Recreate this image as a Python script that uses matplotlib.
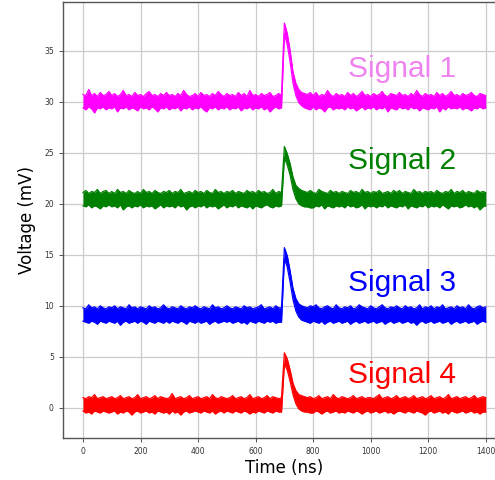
import numpy as np
import matplotlib
matplotlib.use("Agg")
import matplotlib.pyplot as plt

# upper / lower edge of each noisy trace, read every 10 ns (0 .. 1400 ns)
time_ns = np.arange(0, 1401, 10)

signal_1_high = [
    30.7, 30.6, 31.2, 30.6, 30.8, 30.5, 30.9, 30.6, 30.7, 31.0,
    30.6, 30.8, 30.5, 30.7, 31.1, 30.6, 30.7, 30.5, 30.9, 30.6,
    30.7, 30.5, 30.8, 31.0, 30.6, 30.7, 30.5, 30.8, 30.6, 30.9,
    30.6, 30.7, 30.5, 30.8, 30.6, 31.1, 30.7, 30.5, 30.6, 30.8,
    30.5, 30.9, 30.6, 30.7, 30.5, 30.8, 30.6, 31.0, 30.7, 30.5,
    30.8, 30.6, 30.7, 30.5, 30.9, 30.6, 30.8, 30.5, 31.1, 30.6,
    30.7, 30.5, 30.8, 30.6, 30.7, 30.9, 30.5, 30.6, 30.8, 30.6,
    37.7, 36.7, 35.0, 32.9, 31.8, 31.2, 30.9, 30.8, 30.7, 30.9,
    30.6, 30.9, 30.5, 30.7, 30.6, 31.1, 30.7, 30.5, 30.8, 30.6,
    30.7, 30.5, 30.9, 30.6, 30.8, 30.5, 30.7, 31.0, 30.6, 30.7,
    30.5, 30.8, 30.6, 30.7, 31.0, 30.6, 30.5, 30.8, 30.7, 30.6,
    30.9, 30.6, 30.7, 30.5, 30.8, 30.6, 31.1, 30.7, 30.5, 30.8,
    30.6, 30.7, 30.5, 30.9, 30.6, 30.8, 30.5, 30.7, 31.0, 30.6,
    30.7, 30.5, 30.8, 30.6, 30.7, 30.9, 30.6, 30.5, 30.8, 30.7,
    30.6,
]
signal_1_low = [
    29.4, 29.2, 29.5, 29.3, 28.9, 29.4, 29.3, 29.5, 29.2, 29.4,
    29.3, 29.5, 29.0, 29.4, 29.3, 29.5, 29.2, 29.4, 29.3, 29.1,
    29.5, 29.3, 29.4, 29.2, 29.5, 29.3, 29.0, 29.4, 29.3, 29.5,
    29.2, 29.4, 29.3, 29.5, 29.1, 29.4, 29.3, 29.5, 29.2, 29.4,
    29.3, 29.5, 29.2, 29.0, 29.4, 29.3, 29.5, 29.2, 29.4, 29.3,
    29.5, 29.2, 29.4, 29.3, 29.5, 29.1, 29.4, 29.3, 29.5, 29.2,
    29.4, 29.3, 29.5, 29.2, 29.4, 29.0, 29.3, 29.5, 29.3, 29.4,
    36.6, 35.6, 33.9, 31.8, 30.6, 29.9, 29.6, 29.4, 29.3, 29.2,
    29.5, 29.2, 29.4, 29.3, 29.0, 29.4, 29.5, 29.2, 29.4, 29.3,
    29.4, 29.2, 29.5, 29.3, 29.4, 29.1, 29.3, 29.5, 29.2, 29.4,
    29.3, 29.5, 29.2, 29.4, 29.3, 29.5, 29.0, 29.4, 29.3, 29.2,
    29.5, 29.3, 29.4, 29.2, 29.5, 29.3, 29.4, 29.1, 29.4, 29.3,
    29.2, 29.4, 29.3, 29.5, 29.0, 29.4, 29.2, 29.5, 29.3, 29.4,
    29.3, 29.5, 29.2, 29.4, 29.3, 29.1, 29.4, 29.3, 29.5, 29.3,
    29.4,
]

signal_2_high = [
    21.1, 21.3, 21.0, 21.2, 21.1, 21.4, 21.0, 21.2, 21.3, 21.0,
    21.2, 21.0, 21.4, 21.1, 21.2, 21.0, 21.3, 21.1, 21.0, 21.2,
    21.0, 21.4, 21.1, 21.2, 21.0, 21.3, 21.1, 21.0, 21.2, 21.1,
    21.3, 21.0, 21.2, 21.1, 21.4, 21.0, 21.1, 21.2, 21.0, 21.3,
    21.1, 21.2, 21.0, 21.3, 21.1, 21.0, 21.4, 21.1, 21.2, 21.0,
    21.2, 21.1, 21.3, 21.0, 21.2, 21.1, 21.0, 21.3, 21.1, 21.2,
    21.0, 21.3, 21.1, 21.2, 21.0, 21.1, 21.4, 21.0, 21.2, 21.1,
    25.6, 24.9, 23.9, 22.6, 21.8, 21.5, 21.3, 21.2, 21.1, 21.3,
    21.1, 21.0, 21.4, 21.2, 21.1, 21.0, 21.3, 21.1, 21.2, 21.0,
    21.2, 21.1, 21.0, 21.3, 21.1, 21.2, 21.0, 21.4, 21.1, 21.2,
    21.0, 21.2, 21.1, 21.3, 21.0, 21.1, 21.2, 21.0, 21.3, 21.1,
    21.3, 21.0, 21.2, 21.1, 21.0, 21.4, 21.1, 21.2, 21.0, 21.2,
    21.1, 21.2, 21.0, 21.3, 21.1, 21.0, 21.2, 21.1, 21.4, 21.0,
    21.2, 21.1, 21.3, 21.0, 21.2, 21.1, 21.0, 21.3, 21.1, 21.2,
    21.1,
]
signal_2_low = [
    19.8, 19.7, 19.9, 19.6, 19.8, 19.7, 19.5, 19.8, 19.7, 19.9,
    19.7, 19.8, 19.6, 19.9, 19.4, 19.7, 19.8, 19.6, 19.8, 19.7,
    19.9, 19.6, 19.8, 19.7, 19.8, 19.5, 19.7, 19.9, 19.6, 19.8,
    19.7, 19.8, 19.6, 19.9, 19.7, 19.8, 19.4, 19.7, 19.8, 19.6,
    19.8, 19.7, 19.9, 19.6, 19.8, 19.7, 19.8, 19.5, 19.7, 19.9,
    19.6, 19.8, 19.7, 19.9, 19.6, 19.8, 19.7, 19.6, 19.8, 19.5,
    19.8, 19.7, 19.6, 19.8, 19.9, 19.7, 19.6, 19.8, 19.7, 19.8,
    24.5, 23.8, 22.8, 21.4, 20.5, 20.0, 19.8, 19.7, 19.7, 19.6,
    19.6, 19.8, 19.7, 19.9, 19.5, 19.8, 19.7, 19.6, 19.8, 19.7,
    19.8, 19.6, 19.9, 19.7, 19.8, 19.6, 19.7, 19.9, 19.5, 19.8,
    19.7, 19.8, 19.6, 19.8, 19.7, 19.9, 19.6, 19.8, 19.7, 19.6,
    19.8, 19.7, 19.9, 19.5, 19.8, 19.7, 19.6, 19.8, 19.7, 19.9,
    19.6, 19.8, 19.7, 19.8, 19.6, 19.9, 19.7, 19.5, 19.8, 19.7,
    19.8, 19.6, 19.7, 19.9, 19.7, 19.8, 19.6, 19.8, 19.4, 19.7,
    19.8,
]

signal_3_high = [
    9.8, 9.7, 10.1, 9.8, 9.9, 9.7, 10.0, 9.8, 9.7, 9.9,
    9.8, 10.0, 9.7, 9.9, 9.8, 9.7, 10.1, 9.8, 9.9, 9.7,
    9.9, 9.8, 9.7, 10.0, 9.8, 9.9, 9.7, 9.8, 10.1, 9.8,
    9.7, 9.9, 9.8, 9.7, 10.0, 9.8, 9.7, 9.9, 9.8, 10.0,
    9.8, 9.7, 9.9, 9.8, 9.7, 10.1, 9.8, 9.9, 9.7, 9.8,
    10.0, 9.8, 9.7, 9.9, 9.8, 9.7, 10.0, 9.8, 9.9, 9.7,
    9.8, 9.9, 10.1, 9.7, 9.8, 9.9, 9.7, 10.0, 9.8, 9.8,
    15.7, 14.9, 13.4, 11.7, 10.7, 10.2, 10.0, 9.9, 9.8, 10.0,
    9.9, 10.1, 9.8, 9.7, 9.9, 10.0, 9.8, 9.7, 10.1, 9.8,
    9.7, 9.9, 9.8, 10.0, 9.7, 9.8, 10.1, 9.9, 9.8, 9.7,
    10.0, 9.8, 9.7, 9.9, 10.1, 9.8, 9.7, 9.9, 9.8, 10.0,
    9.8, 9.7, 10.0, 9.8, 9.9, 9.7, 9.8, 10.1, 9.7, 9.9,
    9.8, 10.0, 9.7, 9.9, 9.8, 10.1, 9.7, 9.8, 9.9, 9.7,
    10.0, 9.8, 9.9, 9.7, 10.1, 9.8, 9.7, 9.9, 10.0, 9.8,
    9.9,
]
signal_3_low = [
    8.5, 8.4, 8.3, 8.5, 8.4, 8.2, 8.5, 8.4, 8.3, 8.5,
    8.4, 8.3, 8.5, 8.1, 8.4, 8.5, 8.3, 8.4, 8.5, 8.3,
    8.5, 8.4, 8.2, 8.5, 8.4, 8.3, 8.5, 8.4, 8.3, 8.5,
    8.3, 8.5, 8.4, 8.3, 8.5, 8.4, 8.2, 8.5, 8.4, 8.3,
    8.5, 8.3, 8.4, 8.5, 8.2, 8.4, 8.5, 8.3, 8.4, 8.5,
    8.4, 8.5, 8.3, 8.4, 8.5, 8.3, 8.4, 8.2, 8.5, 8.4,
    8.3, 8.5, 8.4, 8.3, 8.5, 8.4, 8.5, 8.3, 8.4, 8.4,
    14.6, 13.8, 12.3, 10.6, 9.5, 8.9, 8.6, 8.5, 8.4, 8.3,
    8.5, 8.4, 8.3, 8.5, 8.2, 8.4, 8.5, 8.3, 8.4, 8.5,
    8.3, 8.4, 8.5, 8.2, 8.4, 8.5, 8.3, 8.4, 8.5, 8.3,
    8.4, 8.5, 8.3, 8.4, 8.5, 8.2, 8.4, 8.5, 8.3, 8.4,
    8.5, 8.3, 8.4, 8.5, 8.3, 8.4, 8.1, 8.4, 8.5, 8.3,
    8.4, 8.5, 8.3, 8.4, 8.5, 8.3, 8.4, 8.5, 8.2, 8.4,
    8.5, 8.3, 8.4, 8.5, 8.3, 8.4, 8.5, 8.2, 8.4, 8.5,
    8.4,
]

signal_4_high = [
    1.0, 0.9, 1.1, 1.0, 1.3, 0.9, 1.0, 1.1, 0.9, 1.0,
    1.1, 0.9, 1.0, 1.2, 0.9, 1.0, 1.1, 0.9, 1.0, 1.3,
    0.9, 1.0, 1.1, 0.9, 1.0, 1.2, 0.9, 1.1, 1.0, 0.9,
    1.0, 1.4, 0.9, 1.0, 1.1, 0.9, 1.0, 1.2, 0.9, 1.0,
    1.1, 0.9, 1.0, 1.1, 0.9, 1.3, 1.0, 0.9, 1.1, 1.0,
    0.9, 1.0, 1.2, 0.9, 1.0, 1.1, 0.9, 1.0, 1.3, 0.9,
    1.0, 1.1, 0.9, 1.0, 1.2, 0.9, 1.1, 1.0, 0.9, 1.0,
    5.4, 4.8, 3.7, 2.4, 1.7, 1.3, 1.2, 1.1, 1.0, 1.1,
    0.9, 1.0, 1.2, 0.9, 1.0, 1.1, 0.9, 1.3, 1.0, 0.9,
    1.1, 1.0, 0.9, 1.0, 1.2, 0.9, 1.0, 1.1, 0.9, 1.0,
    1.0, 0.9, 1.1, 1.3, 0.9, 1.0, 1.1, 0.9, 1.0, 1.2,
    0.9, 1.0, 1.1, 0.9, 1.0, 1.2, 0.9, 1.0, 1.1, 0.9,
    1.0, 1.2, 0.9, 1.0, 1.1, 0.9, 1.0, 1.3, 0.9, 1.0,
    1.1, 0.9, 1.0, 1.1, 0.9, 1.0, 1.2, 0.9, 1.0, 1.1,
    1.0,
]
signal_4_low = [
    -0.3, -0.5, -0.4, -0.6, -0.3, -0.4, -0.5, -0.3, -0.4, -0.5,
    -0.4, -0.3, -0.6, -0.4, -0.5, -0.3, -0.4, -0.7, -0.4, -0.3,
    -0.5, -0.4, -0.3, -0.5, -0.4, -0.6, -0.3, -0.4, -0.5, -0.4,
    -0.6, -0.3, -0.5, -0.4, -0.7, -0.4, -0.3, -0.5, -0.4, -0.3,
    -0.4, -0.5, -0.3, -0.4, -0.5, -0.3, -0.6, -0.4, -0.3, -0.5,
    -0.3, -0.4, -0.5, -0.3, -0.4, -0.5, -0.3, -0.4, -0.6, -0.4,
    -0.5, -0.3, -0.4, -0.5, -0.3, -0.4, -0.5, -0.3, -0.4, -0.4,
    4.3, 3.7, 2.6, 1.3, 0.4, -0.1, -0.3, -0.4, -0.4, -0.5,
    -0.5, -0.3, -0.4, -0.6, -0.4, -0.3, -0.5, -0.4, -0.3, -0.5,
    -0.4, -0.5, -0.3, -0.4, -0.5, -0.3, -0.4, -0.6, -0.4, -0.3,
    -0.5, -0.4, -0.3, -0.5, -0.4, -0.3, -0.5, -0.4, -0.6, -0.4,
    -0.3, -0.4, -0.5, -0.3, -0.4, -0.5, -0.3, -0.4, -0.5, -0.7,
    -0.4, -0.3, -0.5, -0.4, -0.3, -0.5, -0.4, -0.6, -0.3, -0.4,
    -0.5, -0.4, -0.3, -0.5, -0.4, -0.3, -0.5, -0.4, -0.6, -0.4,
    -0.4,
]

highs = [signal_1_high, signal_2_high, signal_3_high, signal_4_high]
lows = [signal_1_low, signal_2_low, signal_3_low, signal_4_low]
labels = ["Signal 1", "Signal 2", "Signal 3", "Signal 4"]
line_colors = ["magenta", "green", "blue", "red"]
text_colors = ["violet", "green", "blue", "red"]
label_y = [33.2, 24.2, 12.2, 3.2]

fig = plt.figure(figsize=(4.95, 4.8), dpi=100)
ax = fig.add_axes([0.127, 0.0875, 0.895, 0.908])

for hi, lo, col in zip(highs, lows, line_colors):
    ax.fill_between(time_ns, lo, hi, color=col, lw=0)
    ax.plot(time_ns, hi, color=col, lw=0.9)
    ax.plot(time_ns, lo, color=col, lw=0.9)

for lab, col, y in zip(labels, text_colors, label_y):
    ax.text(920, y, lab, color=col, fontsize=21.5, family="Liberation Sans",
            ha="left", va="center")

ax.set_xlim(-70, 1470)
ax.set_ylim(-2.95, 39.75)
ax.set_xticks(np.arange(0, 1401, 200))
ax.set_yticks(np.arange(0, 36, 5))
ax.tick_params(labelsize=5.5, colors="#333333", length=3, width=0.6)
ax.grid(True, color="#cccccc", lw=0.9)
ax.set_axisbelow(True)
for s in ax.spines.values():
    s.set_color("#555555")
    s.set_linewidth(1.0)

ax.set_xlabel("Time (ns)", fontsize=12, labelpad=2)
ax.set_ylabel("Voltage (mV)", fontsize=12, labelpad=6)

fig.savefig("out.png", dpi=100)
